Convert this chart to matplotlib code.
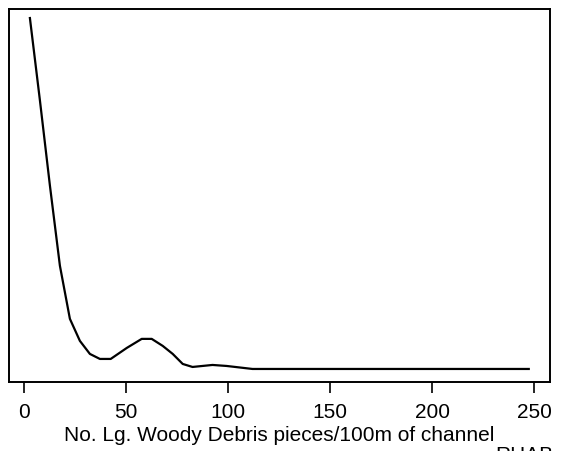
import numpy as np
import matplotlib.pyplot as plt

plt.rcParams['font.family'] = ['Liberation Sans', 'DejaVu Sans']

# density estimate of large woody debris pieces
lwd = [2.9, 7.8, 12.7, 17.6, 22.5, 27.4, 32.3, 37.2, 42.5, 50.4, 57.7, 62.6,
       68.0, 72.9, 77.8, 82.6, 92.4, 99.3, 112.0, 150.0, 200.0, 247.4]
density = [0.0350, 0.0268, 0.0183, 0.0103, 0.0050, 0.0028, 0.0015, 0.0010,
           0.0010, 0.0021, 0.0030, 0.0030, 0.0023, 0.0015, 0.0005, 0.0002,
           0.0004, 0.0003, 0.0000, 0.0000, 0.0000, 0.0000]
xticks = [0, 50, 100, 150, 200, 250]

fig = plt.figure(figsize=(5.62, 4.51), dpi=100)
ax = fig.add_axes([0.016, 0.153, 0.9626, 0.827])

ax.plot(lwd, density, color='black', lw=1.6)

ax.set_xlim(-7.35, 257.8)
ax.set_ylim(-0.0013, 0.0359)
ax.set_xticks(xticks)
ax.set_yticks([])
ax.tick_params(axis='x', direction='out', length=8, width=1.2, labelsize=15, pad=7)
for s in ax.spines.values():
    s.set_linewidth(1.4)

ax.set_xlabel("No. Lg. Woody Debris pieces/100m of channel", fontsize=15)
ax.xaxis.set_label_coords(0.5, -0.118)

# partly cut-off label at the bottom right
fig.text(0.881, -0.022, "RHAB", fontsize=15, va='baseline', ha='left')

fig.savefig("out.png", dpi=100)
